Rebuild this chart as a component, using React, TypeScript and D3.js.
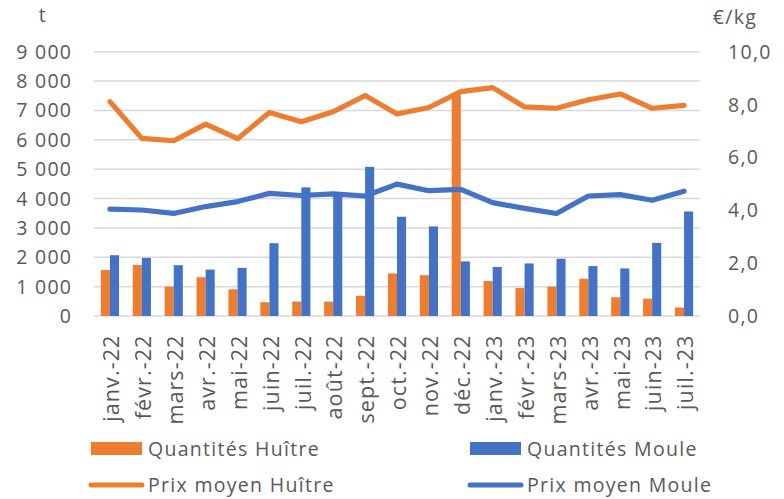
import React from "react";
import * as d3 from "d3";

const categories = ["janv.-22","févr.-22","mars-22","avr.-22","mai-22","juin-22","juil.-22","août-22","sept.-22","oct.-22","nov.-22","déc.-22","janv.-23","févr.-23","mars-23","avr.-23","mai-23","juin-23","juil.-23"];
const quantitesHuitre = [1570,1740,1000,1320,910,470,490,490,690,1450,1390,7600,1190,950,1000,1270,640,590,290];
const quantitesMoule = [2070,1980,1730,1580,1640,2480,4380,4200,5080,3380,3050,1860,1670,1790,1950,1700,1620,2490,3560];
const prixHuitre = [8.11,6.72,6.63,7.26,6.71,7.70,7.35,7.73,8.34,7.64,7.89,8.49,8.64,7.91,7.86,8.18,8.40,7.86,7.97];
const prixMoule = [4.04,4.01,3.88,4.14,4.33,4.64,4.56,4.62,4.54,4.99,4.74,4.79,4.29,4.07,3.88,4.54,4.59,4.38,4.72];
const leftTicks = [0,1000,2000,3000,4000,5000,6000,7000,8000,9000];
const rightTicks = [0,2,4,6,8,10];

const ORANGE = "#ED7D31";
const BLUE = "#4472C4";
const TEXT = "#595959";
const FONT = "'Open Sans', sans-serif";
const FS = 19.5;
const LS = 1.3;

export default function App() {
  const W = 784, H = 499;
  const x0 = 94, x1 = 700, yTop = 51.7, yBot = 316;
  const x = d3.scaleBand<string>().domain(categories).range([x0, x1]).padding(0);
  const yL = d3.scaleLinear().domain([0, 9000]).range([yBot, yTop]);
  const yR = d3.scaleLinear().domain([0, 10]).range([yBot, yTop]);
  const bw = x.bandwidth() * 0.285;
  const cx = (c: string) => (x(c) as number) + x.bandwidth() / 2;
  const fmtL = (v: number) => d3.format(",")(v).replace(/,/g, " ");
  const fmtR = (v: number) => v.toFixed(1).replace(".", ",");
  const lineH = d3.line<number>().x((_, i) => cx(categories[i])).y(v => yR(v));

  const txt = { fontSize: FS, fill: TEXT, letterSpacing: LS } as any;

  return (
    <svg width={W} height={H} style={{ position: "absolute", left: 0, top: 0, background: "#fff" }} fontFamily={FONT}>
      <rect width={W} height={H} fill="#fff" />
      {leftTicks.map(t => (
        <line key={t} x1={x0} x2={x1} y1={yL(t)} y2={yL(t)} stroke="#d9d9d9" strokeWidth={1.5} />
      ))}
      {leftTicks.map(t => (
        <text key={"l" + t} x={72.3} y={yL(t)} dy="0.36em" textAnchor="end" {...txt}>{fmtL(t)}</text>
      ))}
      {rightTicks.map(t => (
        <text key={"r" + t} x={728} y={yR(t)} dy="0.36em" textAnchor="start" {...txt}>{fmtR(t)}</text>
      ))}
      <text x={43} y={15} dy="0.36em" textAnchor="middle" {...txt}>t</text>
      <text x={735} y={17} dy="0.36em" textAnchor="middle" {...txt}>€/kg</text>
      {categories.map((c, i) => (
        <rect key={"h" + c} x={cx(c) - bw} y={yL(quantitesHuitre[i])} width={bw} height={yBot - yL(quantitesHuitre[i])} fill={ORANGE} />
      ))}
      {categories.map((c, i) => (
        <rect key={"m" + c} x={cx(c)} y={yL(quantitesMoule[i])} width={bw} height={yBot - yL(quantitesMoule[i])} fill={BLUE} />
      ))}
      <path d={lineH(prixHuitre) || ""} fill="none" stroke={ORANGE} strokeWidth={5.2} strokeLinejoin="round" strokeLinecap="round" />
      <path d={lineH(prixMoule) || ""} fill="none" stroke={BLUE} strokeWidth={5.2} strokeLinejoin="round" strokeLinecap="round" />
      {categories.map(c => (
        <text key={"x" + c} transform={`translate(${cx(c) + 1.5},334.5) rotate(-90)`} dy="0.36em" textAnchor="end" fontSize={21.5} fill={TEXT} letterSpacing={1.1}>{c}</text>
      ))}
      <rect x={91} y={442} width={51} height={13} fill={ORANGE} />
      <text x={148} y={449} dy="0.36em" {...txt}>Quantités Huître</text>
      <rect x={470} y={442} width={51} height={13} fill={BLUE} />
      <text x={527} y={449} dy="0.36em" {...txt}>Quantités Moule</text>
      <line x1={91} x2={142} y1={485} y2={485} stroke={ORANGE} strokeWidth={5} strokeLinecap="round" />
      <text x={148} y={484.5} dy="0.36em" {...txt}>Prix moyen Huître</text>
      <line x1={470} x2={521} y1={485} y2={485} stroke={BLUE} strokeWidth={5} strokeLinecap="round" />
      <text x={527} y={484.5} dy="0.36em" {...txt}>Prix moyen Moule</text>
    </svg>
  );
}
